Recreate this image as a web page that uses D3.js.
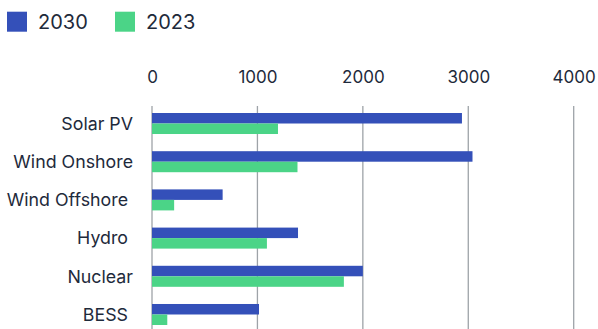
<!DOCTYPE html>
<html><head><meta charset="utf-8">
<script src="https://cdn.jsdelivr.net/npm/d3@7"></script>
<style>
html,body{margin:0;padding:0;background:#fff;}
svg{display:block;font-family:Inter, "Noto Sans", sans-serif;}
</style></head>
<body>
<svg id="c" width="598" height="329"></svg>
<script>
const categories = ["Solar PV", "Wind Onshore", "Wind Offshore ", "Hydro ", "Nuclear", "BESS "];
const seriesNames = ["2030", "2023"];
const values2030 = [2940, 3040, 670, 1385, 2000, 1015];
const values2023 = [1195, 1380, 210, 1090, 1820, 145];
const tickValues = [0, 1000, 2000, 3000, 4000];
const colors = ["#3450b9", "#4bd487"];

const svg = d3.select("#c");
const x = d3.scaleLinear().domain([0, 4000]).range([152, 573.7]);
const y = d3.scaleBand().domain(categories)
  .range([113, 113 + 38.2 * 6 - 17.2]).paddingInner(0.45).paddingOuter(0);
const sub = d3.scaleBand().domain(seriesNames).range([0, y.bandwidth()]);
const textColor = "#1e2a3b";

// legend
const leg = svg.append("g");
seriesNames.forEach((s, i) => {
  const lx = [7, 115][i];
  leg.append("rect").attr("x", lx).attr("y", 11.7).attr("width", 20).attr("height", 20).attr("fill", colors[i]);
  leg.append("text").attr("x", lx + 31).attr("y", 21.7).attr("dy", "0.35em")
    .attr("font-size", 20).attr("fill", textColor).text(s);
});

// grid + axis labels
const axis = d3.axisTop(x).tickValues(tickValues).tickFormat(d3.format("d")).tickSize(0).tickPadding(0);
const ag = svg.append("g").attr("transform", "translate(0,77)").call(axis);
ag.select(".domain").remove();
ag.selectAll("text").attr("font-size", 17).attr("fill", textColor).attr("font-family", "Inter, sans-serif").attr("dy", "0.35em");
svg.append("g").selectAll("line").data(tickValues).join("line")
  .attr("x1", d => x(d)).attr("x2", d => x(d)).attr("y1", 106).attr("y2", 329)
  .attr("stroke", "#9ea3a8").attr("stroke-width", 1.3);

// bars
const data = categories.map((c, i) => ({c, v: [values2030[i], values2023[i]]}));
const g = svg.append("g");
data.forEach(d => {
  d.v.forEach((v, j) => {
    g.append("rect").attr("x", x(0)).attr("y", y(d.c) + sub(seriesNames[j]))
      .attr("width", x(v) - x(0)).attr("height", sub.bandwidth()).attr("fill", colors[j]);
  });
});

// category labels
svg.append("g").selectAll("text").data(categories).join("text")
  .attr("x", 133).attr("y", d => y(d) + y.bandwidth() / 2).attr("dy", "0.35em")
  .attr("text-anchor", "end").attr("font-size", 17.8).attr("fill", textColor)
  .style("white-space", "pre").text(d => d);
</script>
</body></html>
